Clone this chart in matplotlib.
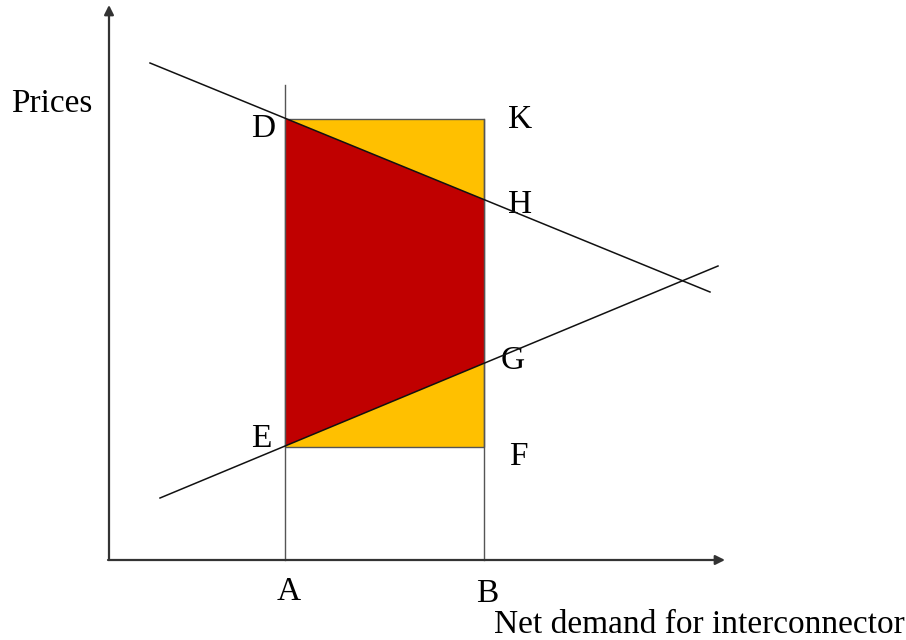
import numpy as np
import matplotlib
matplotlib.use("Agg")
import matplotlib.pyplot as plt
from matplotlib.patches import Polygon

# Diagram data (in diagram units: x to the right, y downward as drawn)
demand_x = [150, 710]
demand_y = [63, 292]
supply_x = [160, 718]
supply_y = [498, 266]
x_A, x_B = 285, 484
price_K = 119          # top of rectangle (K)
price_F = 447          # bottom of rectangle (F)
axis_origin = (109, 560)
axis_x_end = 725
axis_y_end = 5
point_labels = ["D", "K", "H", "G", "E", "F"]
axis_labels = ["A", "B"]
x_title = "Net demand for interconnector"
y_title = "Prices"

def line_at(xs, ys, x):
    return np.interp(x, xs, ys) if xs[0] < xs[1] else np.interp(x, xs[::-1], ys[::-1])

D = (x_A, line_at(demand_x, demand_y, x_A))
H = (x_B, line_at(demand_x, demand_y, x_B))
E = (x_A, line_at(supply_x, supply_y, x_A))
G = (x_B, line_at(supply_x, supply_y, x_B))

fig = plt.figure(figsize=(9.06, 6.40), dpi=100)
ax = fig.add_axes([0, 0, 1, 1])
ax.set_xlim(0, 906)
ax.set_ylim(640, 0)
ax.axis("off")

# Orange rectangle
rect = Polygon([(x_A, price_K), (x_B, price_K), (x_B, price_F), (x_A, price_F)],
               closed=True, facecolor="#FFC000", edgecolor="#555555", lw=1.0, zorder=1)
ax.add_patch(rect)
# Red trapezoid
trap = Polygon([D, H, G, E], closed=True, facecolor="#C00000", edgecolor="none", zorder=2)
ax.add_patch(trap)

# Vertical lines at A and B
ax.plot([x_A, x_A], [85, axis_origin[1]], color="#555555", lw=1.0, zorder=3)
ax.plot([x_B, x_B], [price_K, axis_origin[1]], color="#555555", lw=1.0, zorder=3)

# Demand and supply lines
ax.plot(demand_x, demand_y, color="#111111", lw=1.1, zorder=4)
ax.plot(supply_x, supply_y, color="#111111", lw=1.1, zorder=4)

# Axes with arrows
ap = dict(arrowstyle="-|>", color="#333333", lw=1.6, mutation_scale=14, shrinkA=0, shrinkB=0)
ax.annotate("", xy=(axis_origin[0], axis_y_end), xytext=(axis_origin[0], axis_origin[1]),
            arrowprops=ap, zorder=5)
ax.annotate("", xy=(axis_x_end, axis_origin[1]), xytext=(axis_origin[0] - 1, axis_origin[1]),
            arrowprops=ap, zorder=5)

fam = ["Liberation Serif", "DejaVu Serif"]
fs = 24
lab_pos = {"D": (251, 137), "K": (508, 128), "H": (508, 213), "G": (501, 369),
           "E": (251, 447), "F": (509, 465)}
for name in point_labels:
    x, y = lab_pos[name]
    ax.text(x, y, name, fontsize=fs, family=fam, ha="left", va="baseline", color="black")
ax.text(277, 600, axis_labels[0], fontsize=fs, family=fam, ha="left", va="baseline")
ax.text(476, 602, axis_labels[1], fontsize=fs, family=fam, ha="left", va="baseline")
ax.text(494, 633, x_title, fontsize=fs, family=fam, ha="left", va="baseline")
ax.text(11, 112, y_title, fontsize=fs, family=fam, ha="left", va="baseline")

fig.savefig("out.png", dpi=100)
